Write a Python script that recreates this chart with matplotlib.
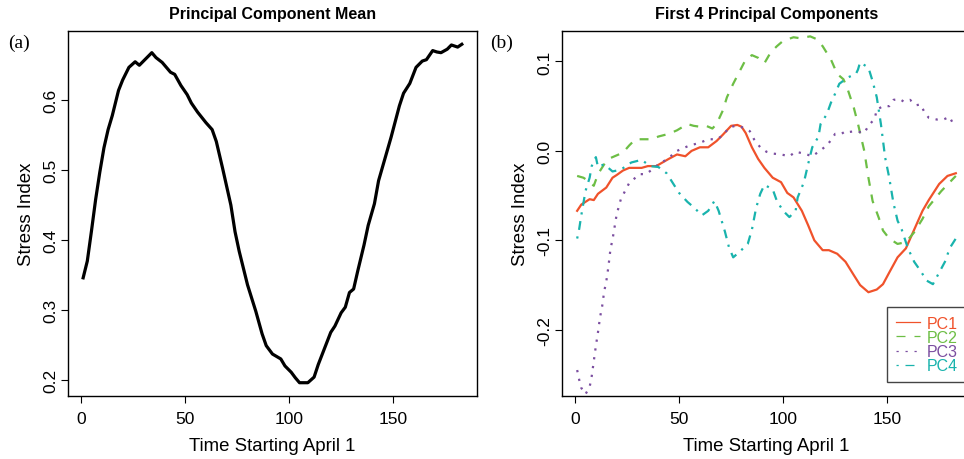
import numpy as np
import matplotlib as mpl
mpl.use('Agg')
import matplotlib.pyplot as plt
from matplotlib.lines import Line2D

plt.rcParams['font.family'] = ['Liberation Sans', 'DejaVu Sans']
plt.rcParams['axes.unicode_minus'] = False

# principal component mean (panel a)
mean_days = [1, 3, 5, 7, 9, 11, 13, 15, 18, 20,
             23, 26, 28, 30, 34, 36, 39, 43, 45, 48,
             51, 53, 56, 60, 63, 65, 68, 72, 74, 76,
             80, 84, 87, 89, 92, 96, 98, 101, 103, 105,
             109, 112, 114, 117, 120, 122, 125, 127, 129, 131,
             133, 136, 138, 141, 143, 146, 149, 153, 155, 158,
             161, 164, 166, 169, 171, 173, 176, 178, 181, 183]
mean_vals = [0.346, 0.370, 0.413, 0.458, 0.497, 0.532, 0.558, 0.578, 0.614, 0.629,
             0.647, 0.655, 0.650, 0.656, 0.668, 0.661, 0.654, 0.640, 0.637, 0.621,
             0.608, 0.596, 0.583, 0.568, 0.558, 0.541, 0.503, 0.450, 0.412, 0.384,
             0.336, 0.298, 0.266, 0.249, 0.237, 0.230, 0.220, 0.211, 0.203, 0.196,
             0.196, 0.204, 0.222, 0.245, 0.268, 0.277, 0.296, 0.304, 0.325, 0.330,
             0.356, 0.393, 0.421, 0.452, 0.485, 0.516, 0.547, 0.592, 0.610, 0.624,
             0.647, 0.656, 0.658, 0.671, 0.669, 0.668, 0.673, 0.679, 0.676, 0.680]

# first four principal components (panel b)
pc1_days = [1, 3, 7, 9, 11, 15, 18, 20, 23, 26,
            29, 32, 35, 39, 42, 45, 49, 53, 56, 60,
            64, 68, 71, 75, 78, 80, 82, 85, 88, 91,
            95, 99, 102, 105, 109, 112, 115, 119, 122, 126,
            130, 134, 137, 141, 145, 148, 151, 155, 159, 163,
            167, 170, 175, 179, 183]
pc1_vals = [-0.067, -0.060, -0.054, -0.055, -0.048, -0.041, -0.030, -0.027, -0.022, -0.019,
            -0.019, -0.019, -0.017, -0.017, -0.013, -0.009, -0.004, -0.006, 0.000, 0.004,
            0.004, 0.011, 0.018, 0.028, 0.029, 0.027, 0.020, 0.004, -0.009, -0.019,
            -0.030, -0.035, -0.047, -0.052, -0.067, -0.083, -0.100, -0.111, -0.111, -0.115,
            -0.124, -0.139, -0.150, -0.158, -0.155, -0.149, -0.136, -0.119, -0.109, -0.088,
            -0.067, -0.055, -0.037, -0.028, -0.025]

pc2_days = [1, 4, 6, 9, 11, 14, 16, 19, 23, 26,
            29, 33, 37, 40, 45, 49, 54, 57, 60, 63,
            66, 68, 71, 73, 76, 80, 82, 85, 88, 91,
            94, 97, 100, 105, 108, 113, 116, 119, 123, 126,
            129, 131, 134, 136, 139, 141, 143, 146, 148, 151,
            155, 159, 163, 167, 170, 176, 183]
pc2_vals = [-0.028, -0.030, -0.033, -0.039, -0.026, -0.015, -0.009, -0.006, -0.002, 0.006,
            0.013, 0.013, 0.013, 0.016, 0.019, 0.023, 0.030, 0.028, 0.027, 0.028,
            0.025, 0.030, 0.045, 0.060, 0.075, 0.093, 0.102, 0.107, 0.104, 0.098,
            0.110, 0.117, 0.123, 0.127, 0.126, 0.128, 0.125, 0.117, 0.102, 0.086,
            0.080, 0.069, 0.048, 0.030, 0.000, -0.030, -0.056, -0.075, -0.089, -0.098,
            -0.104, -0.102, -0.091, -0.076, -0.062, -0.045, -0.028]

pc3_days = [1, 2, 3, 5, 7, 8, 9, 10, 11, 12,
            13, 14, 15, 16, 17, 18, 19, 20, 22, 24,
            26, 29, 31, 34, 37, 39, 43, 46, 48, 52,
            55, 60, 64, 68, 71, 74, 77, 81, 84, 86,
            89, 92, 95, 99, 103, 106, 110, 114, 117, 121,
            123, 125, 128, 130, 131, 135, 139, 141, 144, 145,
            148, 151, 153, 156, 158, 161, 164, 166, 168, 170,
            174, 177, 180, 182]
pc3_vals = [-0.245, -0.256, -0.265, -0.272, -0.264, -0.252, -0.235, -0.218, -0.203, -0.186,
            -0.174, -0.157, -0.146, -0.130, -0.110, -0.099, -0.085, -0.071, -0.054, -0.045,
            -0.036, -0.030, -0.026, -0.026, -0.021, -0.017, -0.011, -0.006, -0.001, 0.003,
            0.006, 0.009, 0.013, 0.013, 0.017, 0.026, 0.028, 0.026, 0.022, 0.013,
            0.004, -0.001, -0.003, -0.004, -0.006, -0.001, -0.003, -0.006, -0.001, 0.006,
            0.012, 0.019, 0.019, 0.022, 0.021, 0.022, 0.020, 0.028, 0.036, 0.046,
            0.050, 0.050, 0.057, 0.058, 0.055, 0.057, 0.051, 0.052, 0.043, 0.037,
            0.035, 0.035, 0.038, 0.029]

pc4_days = [1, 2, 3, 5, 7, 8, 10, 11, 14, 18,
            22, 27, 32, 36, 40, 44, 47, 50, 54, 57,
            61, 64, 67, 69, 72, 74, 76, 79, 83, 85,
            87, 89, 91, 95, 97, 100, 103, 106, 107, 110,
            112, 114, 117, 118, 121, 123, 125, 127, 131, 135,
            136, 137, 141, 143, 145, 147, 149, 151, 153, 155,
            157, 160, 163, 166, 169, 172, 175, 178, 180, 183]
pc4_vals = [-0.098, -0.087, -0.072, -0.045, -0.030, -0.017, -0.007, -0.018, -0.015, -0.023,
            -0.021, -0.013, -0.010, -0.017, -0.018, -0.025, -0.036, -0.047, -0.057, -0.063,
            -0.072, -0.067, -0.056, -0.067, -0.090, -0.108, -0.119, -0.113, -0.104, -0.088,
            -0.064, -0.048, -0.038, -0.043, -0.056, -0.067, -0.074, -0.067, -0.052, -0.035,
            -0.015, 0.004, 0.016, 0.030, 0.041, 0.054, 0.064, 0.075, 0.082, 0.086,
            0.091, 0.099, 0.093, 0.078, 0.060, 0.030, -0.007, -0.030, -0.058, -0.078,
            -0.088, -0.109, -0.124, -0.134, -0.145, -0.149, -0.136, -0.123, -0.109, -0.098]

pc_labels = ['PC1', 'PC2', 'PC3', 'PC4']
pc_colors = ['#F0522B', '#6DBE45', '#7B4EA0', '#19B3AD']
pc_dashes = [None, (4, 4), (1, 3), (1, 3, 4, 3)]


def r_style(ax):
    for s in ax.spines.values():
        s.set_linewidth(1.0)
        s.set_color('black')
    ax.tick_params(direction='out', length=5, width=0.8, labelsize=12.5, pad=6)
    ax.tick_params(axis='y', labelrotation=90, pad=2)
    for lab in ax.get_yticklabels():
        lab.set_va('center')


fig = plt.figure(figsize=(9.64, 4.6), dpi=100)

# panel (a)
ax1 = fig.add_axes([68/964, 63/460, 409/964, 365/460])
ax1.plot(mean_days, mean_vals, color='black', lw=2.3, solid_joinstyle='round')
ax1.set_xlim(-6.28, 190.3)
ax1.set_ylim(0.177, 0.699)
ax1.set_xticks([0, 50, 100, 150])
ax1.set_yticks([0.2, 0.3, 0.4, 0.5, 0.6])
ax1.set_yticklabels(['0.2', '0.3', '0.4', '0.5', '0.6'])
r_style(ax1)
ax1.set_xlabel('Time Starting April 1', fontsize=13.4, labelpad=8)
ax1.set_ylabel('Stress Index', fontsize=13.4, labelpad=6)
ax1.set_title('Principal Component Mean', fontsize=11.5, fontweight='bold', pad=9)

# panel (b)
ax2 = fig.add_axes([562/964, 63/460, 409/964, 365/460])
pc_days = [pc1_days, pc2_days, pc3_days, pc4_days]
pc_vals = [pc1_vals, pc2_vals, pc3_vals, pc4_vals]
handles = []
for d, v, lab, c, ds in zip(pc_days, pc_vals, pc_labels, pc_colors, pc_dashes):
    line, = ax2.plot(d, v, color=c, lw=1.6)
    h = Line2D([], [], color=c, lw=0.9, label=lab)
    if ds is not None:
        line.set_dashes(ds)
        h.set_dashes([x * 1.8 for x in ds])
    handles.append(h)
ax2.set_xlim(-6.28, 190.3)
ax2.set_ylim(-0.274, 0.134)
ax2.set_xticks([0, 50, 100, 150])
ax2.set_yticks([-0.2, -0.1, 0.0, 0.1])
ax2.set_yticklabels(['-0.2', '-0.1', '0.0', '0.1'])
r_style(ax2)
ax2.set_xlabel('Time Starting April 1', fontsize=13.4, labelpad=8)
ax2.set_ylabel('Stress Index', fontsize=13.4, labelpad=6)
ax2.set_title('First 4 Principal Components', fontsize=11.5, fontweight='bold', pad=9)

leg = ax2.legend(handles=handles, loc='lower left', bbox_to_anchor=(0.795, 0.038),
                 borderaxespad=0, fontsize=11.5, labelcolor='linecolor',
                 handlelength=1.5, handletextpad=0.45, labelspacing=-0.05,
                 borderpad=0.55, fancybox=False, framealpha=1)
leg.get_frame().set_edgecolor('#444444')
leg.get_frame().set_linewidth(1.0)

fig.text(8/964, 1 - 43/460, '(a)', family='Liberation Serif', fontsize=14, va='center')
fig.text(490/964, 1 - 43/460, '(b)', family='Liberation Serif', fontsize=14, va='center')

fig.savefig('out.png', dpi=100)
